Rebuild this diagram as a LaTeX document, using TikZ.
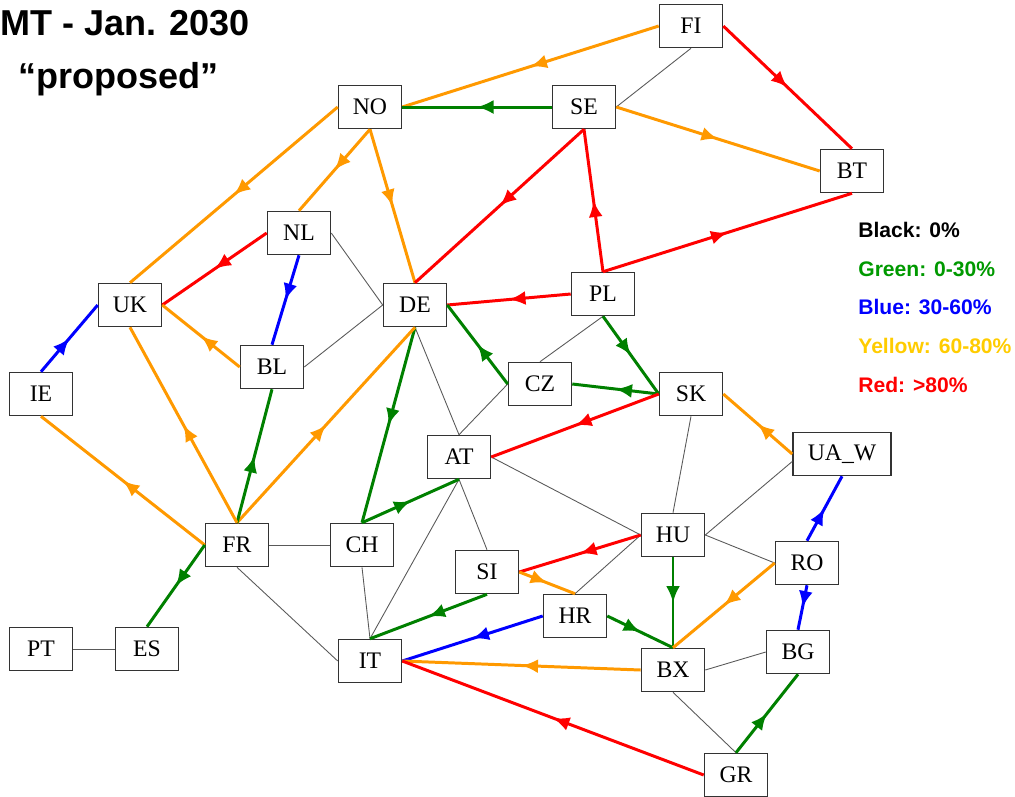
\documentclass[tikz,border=0pt]{standalone}
\usepackage{fontspec}
\setmainfont{Liberation Serif}
\newfontfamily\arialfont{Liberation Sans}
\usetikzlibrary{arrows.meta,decorations.markings}
\definecolor{cOrange}{RGB}{255,153,0}
\definecolor{cGreen}{RGB}{0,128,0}
\definecolor{cBlue}{RGB}{0,0,255}
\definecolor{cRed}{RGB}{255,0,0}
\definecolor{cGold}{RGB}{255,204,0}
\definecolor{cLGreen}{RGB}{0,153,0}
\begin{document}
\begin{tikzpicture}[x=0.02cm,y=-0.02cm,
  country/.style={draw=black!80, line width=0.9pt, fill=white, minimum width=1.26cm, minimum height=0.86cm, inner sep=0pt, font=\fontsize{13.5}{14}\selectfont},
  plain/.style={draw=black!65, line width=0.5pt},
  flow/.style={line width=1.7pt, postaction={decorate}, decoration={markings, mark=at position 0.5 with {\arrow{Latex[length=0.33cm,width=0.28cm]}}}},
  ora/.style={flow, draw=cOrange, fill=cOrange},
  grn/.style={flow, draw=cGreen, fill=cGreen},
  blu/.style={flow, draw=cBlue, fill=cBlue},
  rd/.style={flow, draw=cRed, fill=cRed},
  legend/.style={anchor=west, font=\arialfont\bfseries\fontsize{12}{14}\selectfont, inner sep=0pt},
  title/.style={font=\arialfont\bfseries\fontsize{20.5}{24}\selectfont, inner sep=0pt}
]
\useasboundingbox (0,0) rectangle (1015,796);

% title
\node[title, anchor=base west] (t1) at (0,35) {MT - Jan. 2030};
\node[title, anchor=base] (t2) at (118.5,88) {“proposed”};

% legend
\node[legend, text=black] (l1) at (858,230) {Black: 0\%};
\node[legend, text=cLGreen] (l2) at (858,269) {Green: 0-30\%};
\node[legend, text=cBlue] (l3) at (858,307) {Blue: 30-60\%};
\node[legend, text=cGold] (l4) at (858,346) {Yellow: 60-80\%};
\node[legend, text=cRed] (l5) at (858,385) {Red: >80\%};

% countries
\node[country] (FI) at (691,26) {FI};
\node[country] (NO) at (370,107) {NO};
\node[country] (SE) at (584,107) {SE};
\node[country] (BT) at (852,171) {BT};
\node[country] (NL) at (299,233) {NL};
\node[country] (UK) at (130,305) {UK};
\node[country] (DE) at (415,305) {DE};
\node[country] (BL) at (272,367) {BL};
\node[country] (IE) at (41,394) {IE};
\node[country] (PL) at (603,294) {PL};
\node[country] (CZ) at (540,384) {CZ};
\node[country] (SK) at (691,394) {SK};
\node[country] (AT) at (459,457) {AT};
\node[country, minimum width=1.96cm] (UAW) at (842,454) {UA\_W};
\node[country] (FR) at (237,545) {FR};
\node[country] (CH) at (362,545) {CH};
\node[country] (SI) at (487,572) {SI};
\node[country] (IT) at (370,661) {IT};
\node[country] (HU) at (673,535) {HU};
\node[country] (RO) at (807,563) {RO};
\node[country] (HR) at (575,616) {HR};
\node[country] (BX) at (673,670) {BX};
\node[country] (BG) at (798,652) {BG};
\node[country] (GR) at (736,775) {GR};
\node[country] (PT) at (41,649) {PT};
\node[country] (ES) at (147,649) {ES};

% plain (0%) links
\draw[plain] (FI.south) -- (SE.east);
\draw[plain] (NL.east) -- (DE.west);
\draw[plain] (BL.east) -- (DE.west);
\draw[plain] (PL.south) -- (CZ.north);
\draw[plain] (DE.south) -- (AT.north);
\draw[plain] (CZ.west) -- (AT.north);
\draw[plain] (PT.east) -- (ES.west);
\draw[plain] (FR.east) -- (CH.west);
\draw[plain] (FR.south) -- (IT.west);
\draw[plain] (CH.south) -- (IT.north);
\draw[plain] (AT.south) -- (IT.north);
\draw[plain] (AT.south) -- (SI.north);
\draw[plain] (AT.east) -- (HU.west);
\draw[plain] (SK.south) -- (HU.north);
\draw[plain] ([yshift=-0.15cm]UAW.west) -- (HU.east);
\draw[plain] (HU.east) -- (RO.west);
\draw[plain] (HR.north) -- (HU.west);
\draw[plain] (BX.east) -- (BG.west);
\draw[plain] (BX.south) -- (GR.north);

% flows
\draw[ora] (FI.west) -- (NO.east);
\draw[grn] (SE.west) -- (NO.east);
\draw[rd] (FI.east) -- (BT.north);
\draw[ora] (SE.east) -- (BT.west);
\draw[ora] (NO.west) -- (UK.north);
\draw[ora] (NO.south) -- (NL.north);
\draw[ora] (NO.south) -- (DE.north);
\draw[rd] (SE.south) -- (DE.north);
\draw[rd] (PL.north) -- (SE.south);
\draw[rd] (PL.north) -- (BT.south);
\draw[rd] (NL.west) -- (UK.east);
\draw[blu] (NL.south) -- (BL.north);
\draw[blu] (IE.north) -- (UK.west);
\draw[ora] (BL.west) -- (UK.east);
\draw[rd] (PL.west) -- (DE.east);
\draw[grn] (CZ.west) -- (DE.east);
\draw[grn] (PL.south) -- (SK.west);
\draw[grn] (SK.west) -- (CZ.east);
\draw[rd] (SK.west) -- (AT.east);
\draw[ora] (UAW.west) -- (SK.east);
\draw[grn] (DE.south) -- (CH.north);
\draw[ora] (FR.north) -- (DE.south);
\draw[grn] (FR.north) -- (BL.south);
\draw[ora] (FR.north) -- (UK.south);
\draw[ora] (FR.west) -- (IE.south);
\draw[grn] (FR.west) -- (ES.north);
\draw[grn] (CH.north) -- (AT.south);
\draw[blu] (RO.north) -- (UAW.south);
\draw[blu] (RO.south) -- (BG.north);
\draw[rd] (HU.west) -- (SI.east);
\draw[ora] (SI.east) -- (HR.north);
\draw[grn] (SI.south) -- (IT.north);
\draw[blu] (HR.west) -- (IT.east);
\draw[grn] (HU.south) -- (BX.north);
\draw[grn] (HR.east) -- (BX.north);
\draw[ora] (RO.west) -- (BX.north);
\draw[ora] (BX.west) -- (IT.east);
\draw[grn] (GR.north) -- (BG.south);
\draw[rd] (GR.west) -- (IT.east);
\end{tikzpicture}
\end{document}
